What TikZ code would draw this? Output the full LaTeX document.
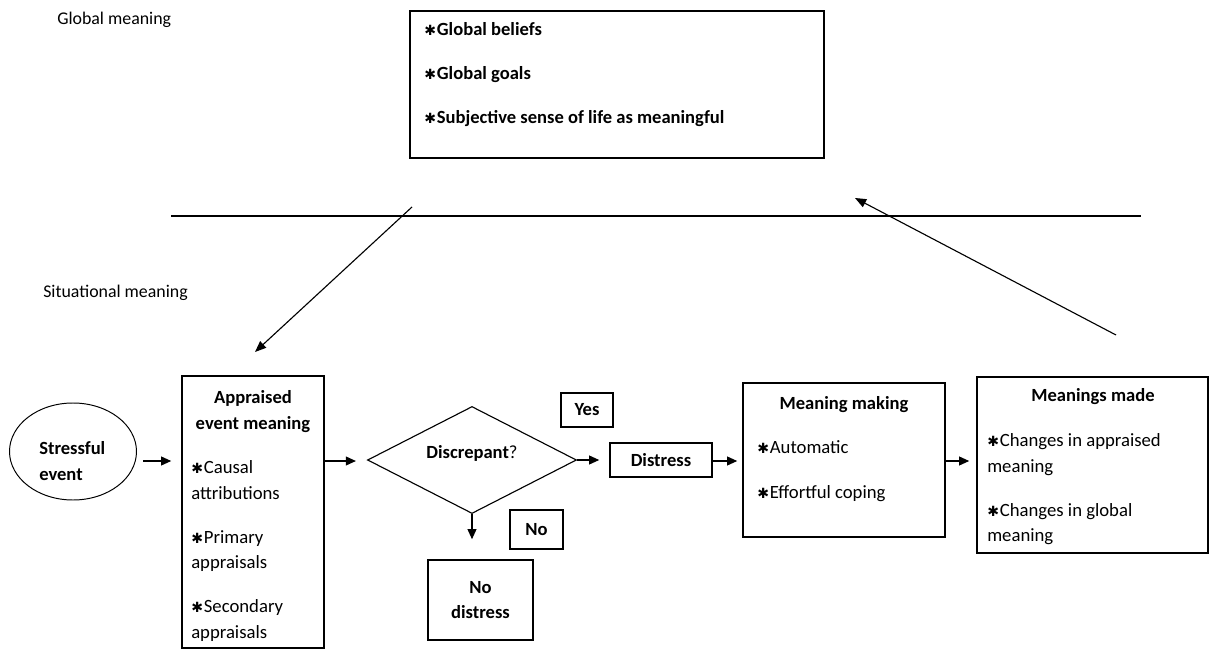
\documentclass[tikz,border=0pt]{standalone}
\usepackage{fontspec}
\setmainfont{Carlito}
\newfontfamily\symfont{DejaVu Sans}
\usetikzlibrary{shapes.geometric,arrows.meta,positioning}
\newcommand{\st}{{\symfont\fontsize{10}{10}\selectfont ✱}\kern0.6pt}
\def\pu{0.025cm}

\begin{document}
\begin{tikzpicture}[x=0.025cm, y=-0.025cm,
	box/.style={draw, line width=1.1pt, inner sep=0pt},
	label txt/.style={inner sep=0pt, font=\fontsize{12.7}{18.4}\selectfont},
	txt/.style={inner sep=0pt, font=\fontsize{13.3}{18.4}\selectfont},
	bold txt/.style={inner sep=0pt, font=\bfseries\fontsize{13.2}{18.4}\selectfont},
	arr/.style={-{Triangle[length=2.5mm,width=2.2mm]}, line width=0.9pt},
	slant arr/.style={-{Triangle[length=2.8mm,width=2.2mm]}, line width=0.8pt}]
	
	\useasboundingbox (0,0) rectangle (1213,650);
	
	% levels
	\node[label txt, anchor=west] (gm) at (57,20) {Global meaning};
	\node[label txt, anchor=west] (sm) at (43,293) {Situational meaning};
	\draw[line width=0.8pt] (171,216) -- (1141,216);
	
	% global meaning box
	\node[box, minimum width=414*\pu, minimum height=147*\pu] (glob) at (617,84.5) {};
	\node[bold txt, anchor=north west, align=left, font=\bfseries\fontsize{13.2}{31.5}\selectfont] (globtxt) at (424,22)
		{\st Global beliefs\\\st Global goals\\\st Subjective sense of life as meaningful};
	
	% situational meaning
	\node[draw, ellipse, line width=0.7pt, inner sep=0pt, minimum width=127*\pu, minimum height=97*\pu] (stress) at (73,451.5) {};
	\node[bold txt, anchor=north west, align=left] (stresstxt) at (39,441) {Stressful\\event};
	
	\node[box, minimum width=142*\pu, minimum height=272*\pu] (appr) at (253,512) {};
	\node[bold txt, anchor=north, align=center] (apprtitle) at (253,390) {Appraised\\event meaning};
	\node[txt, anchor=north west, align=left] (appritems) at (191,460)
		{\st Causal\\attributions\\[12.8pt]\st Primary\\appraisals\\[12.8pt]\st Secondary\\appraisals};
	
	\node[draw, diamond, line width=0.8pt, inner sep=0pt, minimum width=209*\pu, minimum height=100*\pu] (disc) at (472,460)
		{\fontsize{13.2}{15}\selectfont\raisebox{0.175cm}[\height][\depth]{\textbf{Discrepant}?}};
	
	\node[box, bold txt, minimum width=52*\pu, minimum height=34*\pu] (yes) at (587,410) {Yes};
	\node[box, bold txt, minimum width=102*\pu, minimum height=34*\pu] (dist) at (661,460) {Distress};
	\node[box, bold txt, minimum width=53*\pu, minimum height=39*\pu] (no) at (536.5,529.5) {No};
	\node[box, bold txt, align=center, minimum width=105*\pu, minimum height=80*\pu] (nodist) at (480.5,600) {No\\distress};
	
	\node[box, minimum width=202*\pu, minimum height=154*\pu] (mmake) at (844,460) {};
	\node[bold txt, anchor=north] (mmaketitle) at (844,396) {Meaning making};
	\node[txt, anchor=north west, align=left] (mmakeitems) at (757,440)
		{\st Automatic\\[13.5pt]\st Effortful coping};
	
	\node[box, minimum width=231*\pu, minimum height=176*\pu] (mmade) at (1092.5,465) {};
	\node[bold txt, anchor=north] (mmadetitle) at (1093,388) {Meanings made};
	\node[txt, anchor=north west, align=left] (mmadeitems) at (987,433)
		{\st Changes in appraised\\meaning\\[12.8pt]\st Changes in global\\meaning};
	
	% connectors
	\coordinate (row) at (0,461);
	\coordinate (glob out) at (412,207);
	\coordinate (appr in) at (255,352);
	\coordinate (made out) at (1116,335);
	\coordinate (glob in) at (855,198);
	
	\draw[arr, shorten <=0.16cm, shorten >=0.25cm] (stress.east |- row) -- (appr.west |- row);
	\draw[arr, shorten >=0.275cm] (appr.east |- row) -- (disc.west |- row);
	\draw[arr, shorten >=0.25cm] (disc.east) -- (dist.west |- disc.east);
	\draw[arr, shorten >=0.125cm] (dist.east |- row) -- (mmake.west |- row);
	\draw[arr, shorten >=0.175cm] (mmake.east |- row) -- (mmade.west |- row);
	\draw[arr, shorten >=0.5cm] (disc.south) -- (disc.south |- nodist.north);
	
	\draw[slant arr] (glob out) -- (appr in);
	\draw[slant arr] (made out) -- (glob in);
	
\end{tikzpicture}
\end{document}
